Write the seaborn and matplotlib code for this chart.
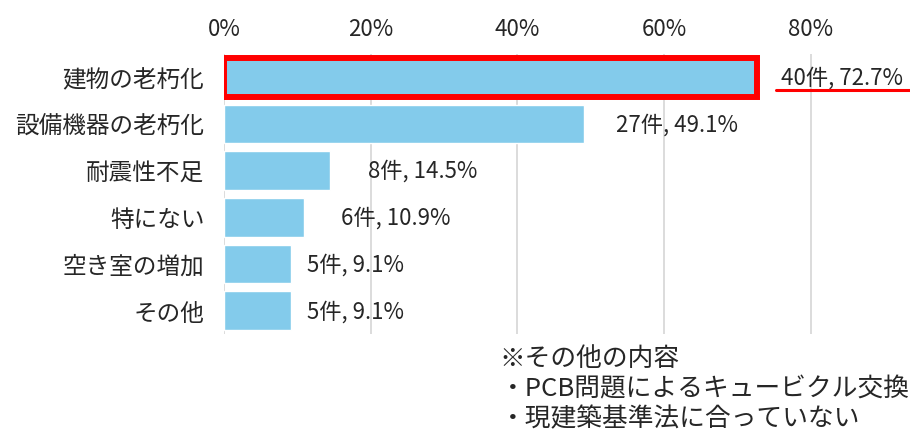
import numpy as np
import pandas as pd
import matplotlib
matplotlib.use("Agg")
import matplotlib.pyplot as plt
from matplotlib.ticker import PercentFormatter
from matplotlib.lines import Line2D
import seaborn as sns

# data
categories = ["建物の老朽化", "設備機器の老朽化", "耐震性不足", "特にない", "空き室の増加", "その他"]
counts = [40, 27, 8, 6, 5, 5]
shares = [72.7, 49.1, 14.5, 10.9, 9.1, 9.1]
note_lines = ["※その他の内容", "・PCB問題によるキュービクル交換", "・現建築基準法に合っていない"]

# label offsets (points) to sit like in the original
label_offsets = [17, 23, 27, 27, 12, 12]

df = pd.DataFrame({"item": categories, "share": np.array(shares) / 100, "count": counts})

sns.set_style("white")
plt.rcParams["font.family"] = ["Noto Sans CJK JP", "DejaVu Sans"]

fig = plt.figure(figsize=(9.1, 4.39), dpi=100)
ax = fig.add_axes([0.246, 0.237, 0.742, 0.638])

sns.barplot(data=df, y="item", x="share", orient="h", color="#83CBEB",
            saturation=1, width=0.83, ax=ax)

# highlight first bar
first = ax.patches[0]
first.set_edgecolor("#FF0000")
first.set_linewidth(4.3)
first.set_zorder(3)

ax.set_xlim(0, 0.92)
ax.set_xticks([0, 0.2, 0.4, 0.6, 0.8])
ax.xaxis.set_major_formatter(PercentFormatter(1.0, decimals=0))
ax.xaxis.tick_top()
ax.tick_params(axis="x", length=0, pad=10, labelsize=16)
ax.tick_params(axis="y", length=0, pad=14, labelsize=17)
ax.set_xlabel("")
ax.set_ylabel("")
ax.grid(axis="x", color="#D9D9D9", linewidth=1.3)
ax.set_axisbelow(True)
for s in ["top", "right", "bottom", "left"]:
    ax.spines[s].set_visible(False)

texts = []
for i, (c, p) in enumerate(zip(counts, shares)):
    t = ax.annotate(f"{c}件, {p}%", xy=(p / 100, i), xytext=(label_offsets[i], 0),
                    textcoords="offset points", va="center", ha="left", fontsize=16)
    texts.append(t)

# red underline under the first label
fig.canvas.draw()
bb = texts[0].get_window_extent()
inv = fig.transFigure.inverted()
x0, y0 = inv.transform((bb.x0 - 5, bb.y0 - 1))
fig.add_artist(Line2D([x0, 1.0], [y0, y0], color="#FF0000", linewidth=2.2,
                      transform=fig.transFigure))

fig.text(0.549, 0.212, "\n".join(note_lines), ha="left", va="top",
         fontsize=18.5, linespacing=1.22)

fig.savefig("out.png", dpi=100)
